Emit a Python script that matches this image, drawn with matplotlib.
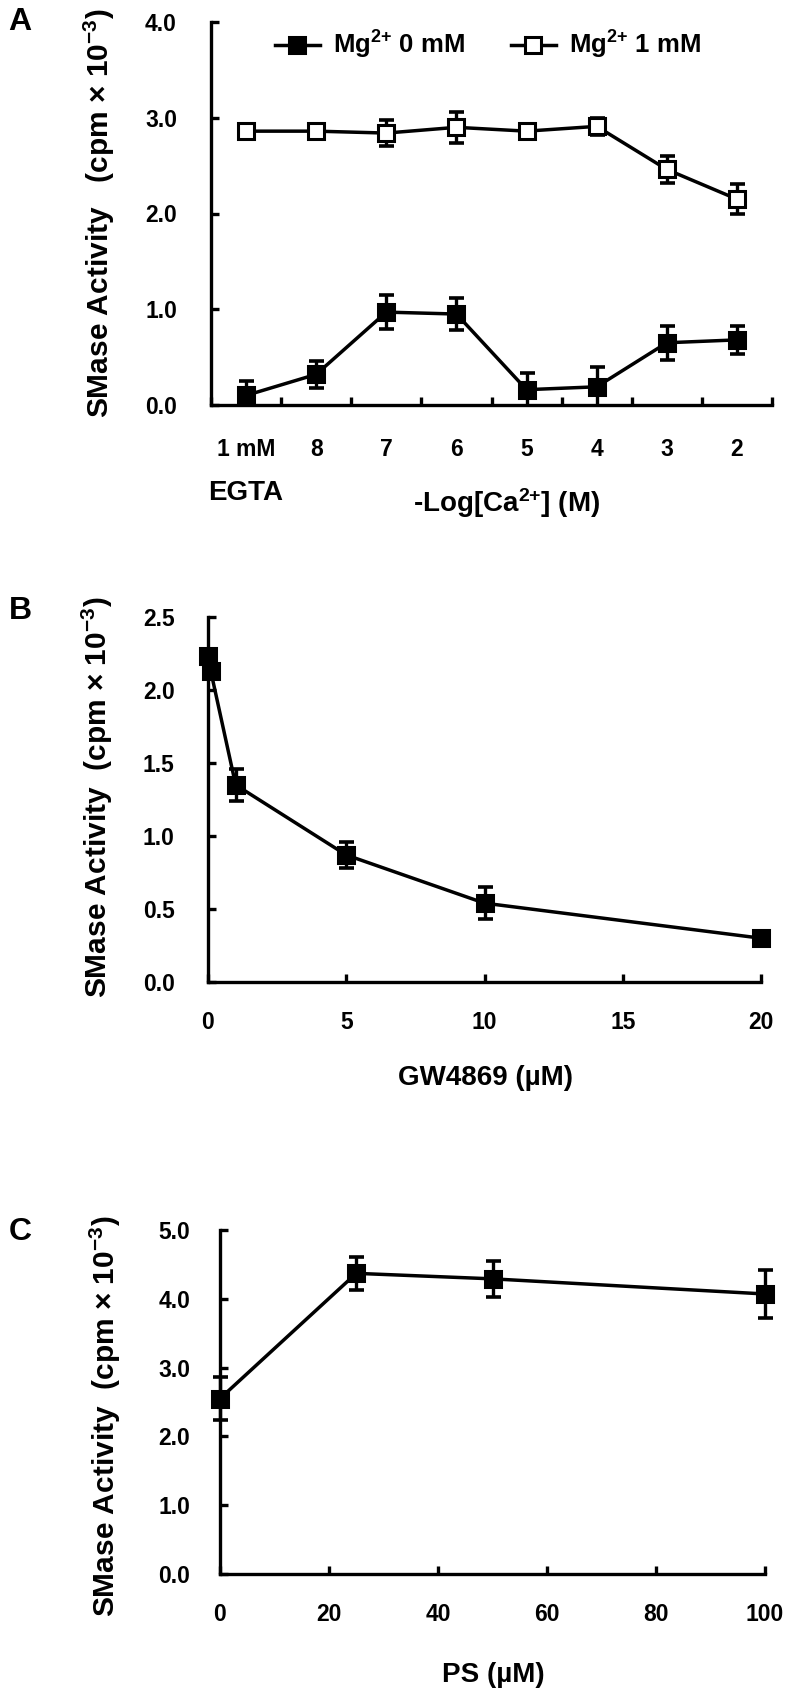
import matplotlib
matplotlib.use("Agg")
import matplotlib.pyplot as plt
from matplotlib.lines import Line2D
import numpy as np

plt.rcParams['font.family'] = ['Liberation Sans', 'DejaVu Sans']
plt.rcParams['font.weight'] = 'bold'
plt.rcParams['mathtext.fontset'] = 'custom'
plt.rcParams['mathtext.rm'] = 'Liberation Sans:bold'
plt.rcParams['mathtext.it'] = 'Liberation Sans:bold'
plt.rcParams['mathtext.bf'] = 'Liberation Sans:bold'
plt.rcParams['mathtext.default'] = 'bf'

# ---------------- data ----------------
# Panel A
a_categories = ["1 mM", "8", "7", "6", "5", "4", "3", "2"]
a_mg0 = [0.10, 0.32, 0.97, 0.95, 0.16, 0.19, 0.65, 0.68]
a_mg0_err = [0.15, 0.14, 0.18, 0.17, 0.17, 0.21, 0.18, 0.15]
a_mg1 = [2.86, 2.86, 2.84, 2.90, 2.86, 2.91, 2.46, 2.15]
a_mg1_err = [0.03, 0.03, 0.14, 0.16, 0.03, 0.09, 0.14, 0.16]
a_yticks = [0, 1, 2, 3, 4]

# Panel B
b_x = [0, 0.1, 1, 5, 10, 20]
b_y = [2.23, 2.13, 1.35, 0.87, 0.54, 0.30]
b_err = [0.05, 0.05, 0.11, 0.09, 0.11, 0.05]
b_xticks = [0, 5, 10, 15, 20]
b_yticks = [0, 0.5, 1.0, 1.5, 2.0, 2.5]

# Panel C
c_x = [0, 25, 50, 100]
c_y = [2.55, 4.37, 4.29, 4.07]
c_err = [0.31, 0.24, 0.26, 0.35]
c_xticks = [0, 20, 40, 60, 80, 100]
c_yticks = [0, 1, 2, 3, 4, 5]

# ---------------- figure ----------------
W, H = 795, 1693
fig = plt.figure(figsize=(W / 100, H / 100), dpi=100)


def rect(l, r, t, b):
    return [l / W, 1 - b / H, (r - l) / W, (b - t) / H]


def fx(px):
    return px / W


def fy(py):
    return 1 - py / H


LW_AX = 2.4
LW_DATA = 2.5
MS = 11.5
TICK_FS = 16.5
YLAB_FS = 21.5


def style(ax, xpad, ypad):
    for s in ("top", "right"):
        ax.spines[s].set_visible(False)
    for s in ("left", "bottom"):
        ax.spines[s].set_linewidth(LW_AX)
    ax.tick_params(axis="both", which="both", direction="in", width=LW_AX,
                   length=6, labelsize=TICK_FS)
    ax.tick_params(axis="x", pad=xpad)
    ax.tick_params(axis="y", pad=ypad)
    for lab in ax.get_xticklabels() + ax.get_yticklabels():
        lab.set_fontweight("bold")


def draw(ax, x, y, err, filled, clip_err=False):
    ax.errorbar(x, y, yerr=err, fmt="none", ecolor="black", elinewidth=2.4,
                capsize=5.4, capthick=2.6, zorder=3, clip_on=clip_err)
    ax.plot(x, y, color="black", lw=LW_DATA, marker="s", ms=MS,
            mfc="black" if filled else "white", mec="black", mew=2.2,
            zorder=4, clip_on=False)


YLAB_A = "SMase Activity   (cpm \u00d7 10$^{-3}$)"
YLAB = "SMase Activity  (cpm \u00d7 10$^{-3}$)"

# ---------- Panel A ----------
axA = fig.add_axes(rect(211, 772, 22, 405))
xa = np.arange(len(a_categories))
draw(axA, xa, a_mg0, a_mg0_err, True, clip_err=True)
draw(axA, xa, a_mg1, a_mg1_err, False, clip_err=True)
axA.set_xlim(-0.5, len(a_categories) - 0.5)
axA.set_ylim(0, 4)
axA.set_yticks(a_yticks)
axA.set_yticklabels([f"{v:.1f}" for v in a_yticks])
axA.set_xticks(xa)
axA.set_xticklabels(a_categories)
axA.set_xticks(np.arange(-0.5, len(a_categories)), minor=True)
style(axA, 24, 24.5)
axA.tick_params(axis="x", which="major", length=0)
axA.tick_params(axis="x", which="minor", length=6, width=LW_AX)
axA.set_ylabel(YLAB_A, fontsize=YLAB_FS, fontweight="bold",
               va="center", ha="center")
axA.yaxis.set_label_coords(fx(99), fy(213), transform=fig.transFigure)
axA.set_xlabel(r"-Log[Ca$^{2{+}}$] (M)", fontsize=20, fontweight="bold",
               va="baseline", ha="center")
axA.xaxis.set_label_coords(fx(507), fy(512), transform=fig.transFigure)
fig.text(fx(246), fy(500), "EGTA", fontsize=20, fontweight="bold",
         ha="center", va="baseline")

h0 = Line2D([], [], color="black", lw=LW_DATA, marker="s", ms=MS,
            mfc="black", mec="black", mew=2.2)
h1 = Line2D([], [], color="black", lw=LW_DATA, marker="s", ms=MS,
            mfc="white", mec="black", mew=2.2)
leg = axA.legend([h0, h1], [r"Mg$^{2{+}}$ 0 mM", r"Mg$^{2{+}}$ 1 mM"], ncol=2,
                 frameon=False, loc="center left",
                 bbox_to_anchor=(fx(275), fy(45)),
                 bbox_transform=fig.transFigure, borderpad=0, borderaxespad=0,
                 handlelength=1.75, handletextpad=0.5, columnspacing=1.8,
                 prop={"size": 18.5, "weight": "bold"})

# ---------- Panel B ----------
axB = fig.add_axes(rect(208, 761, 617, 982))
draw(axB, b_x, b_y, b_err, True)
axB.set_xlim(0, 20)
axB.set_ylim(0, 2.5)
axB.set_xticks(b_xticks)
axB.set_xticklabels([str(v) for v in b_xticks])
axB.set_yticks(b_yticks)
axB.set_yticklabels([f"{v:.1f}" for v in b_yticks])
style(axB, 21, 24)
axB.set_ylabel(YLAB, fontsize=YLAB_FS, fontweight="bold",
               va="center", ha="center")
axB.yaxis.set_label_coords(fx(97), fy(797), transform=fig.transFigure)
axB.set_xlabel("GW4869 (\u00b5M)", fontsize=20, fontweight="bold",
               va="baseline", ha="center")
axB.xaxis.set_label_coords(fx(485), fy(1085), transform=fig.transFigure)

# ---------- Panel C ----------
axC = fig.add_axes(rect(220, 765, 1230, 1574))
draw(axC, c_x, c_y, c_err, True)
axC.set_xlim(0, 100)
axC.set_ylim(0, 5)
axC.set_xticks(c_xticks)
axC.set_xticklabels([str(v) for v in c_xticks])
axC.set_yticks(c_yticks)
axC.set_yticklabels([f"{v:.1f}" for v in c_yticks])
style(axC, 21, 21.5)
axC.set_ylabel(YLAB, fontsize=YLAB_FS, fontweight="bold",
               va="center", ha="center")
axC.yaxis.set_label_coords(fx(105), fy(1416), transform=fig.transFigure)
axC.set_xlabel("PS (\u00b5M)", fontsize=20, fontweight="bold",
               va="baseline", ha="center")
axC.xaxis.set_label_coords(fx(493), fy(1682), transform=fig.transFigure)

# panel letters
for letter, yc in (("A", 22), ("B", 611), ("C", 1232)):
    fig.text(fx(20), fy(yc), letter, fontsize=23, fontweight="bold",
             ha="center", va="center")

fig.savefig("out.png", dpi=100, facecolor="white")
